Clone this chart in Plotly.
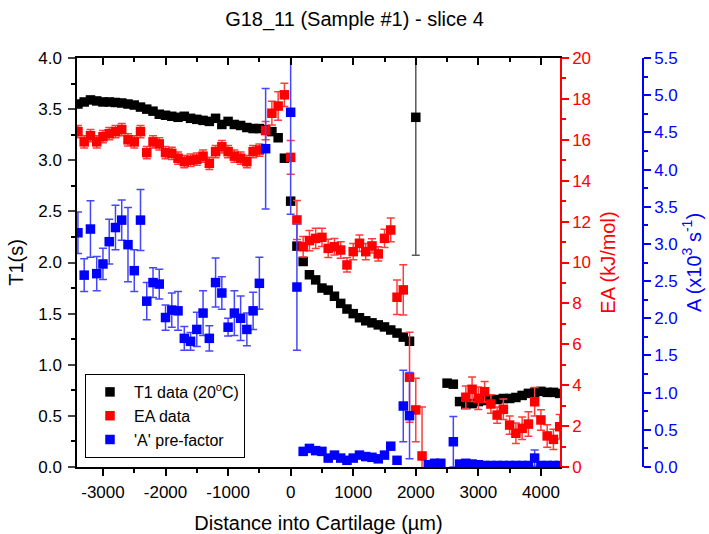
import numpy as np
import plotly.graph_objects as go

# ---------------- data ----------------
t1_x = list(range(-3400, 100, 100)) + list(range(100, 2100, 100)) + list(range(2500, 4400, 100))
t1_y = [3.55, 3.57, 3.59, 3.58, 3.57, 3.57, 3.565, 3.56, 3.55, 3.54, 3.52, 3.50, 3.48, 3.45,
        3.44, 3.43, 3.42, 3.43, 3.41, 3.40, 3.39, 3.38, 3.41, 3.35, 3.38, 3.35, 3.34, 3.32,
        3.31, 3.31, 3.30, 3.28, 3.22, 3.02, 2.60,
        2.16, 2.01, 1.88, 1.83, 1.75, 1.73, 1.67, 1.60, 1.545, 1.50, 1.46, 1.43, 1.41, 1.39,
        1.37, 1.34, 1.31, 1.27, 1.23, 3.42,
        0.82, 0.81, 0.64, 0.61, 0.62, 0.64, 0.65, 0.66, 0.66, 0.67, 0.67, 0.68, 0.70, 0.72,
        0.73, 0.74, 0.73, 0.73, 0.72]
t1_err = [0.0] * 35 + [0.0] * 19 + [1.35] + [0.0] * 19

ea_x = list(range(-3400, 200, 100)) + list(range(200, 2200, 100)) + list(range(2800, 4400, 100))
ea_y = [16.4, 15.9, 16.2, 15.9, 16.15, 16.3, 16.4, 16.5, 16.0, 15.9, 16.4, 15.37, 15.9, 15.8,
        15.37, 15.34, 15.1, 14.93, 15.0, 15.05, 15.2, 14.85, 15.42, 15.66, 15.42, 15.2, 15.1,
        14.93, 15.42, 15.5, 16.45, 17.3, 17.65, 18.2, 15.14, 12.08,
        10.77, 11.07, 11.18, 11.23, 10.69, 10.77, 10.61, 9.88, 10.53, 10.94, 10.53, 10.81,
        10.42, 11.18, 11.59, 8.3, 8.66, 4.39, 2.79, 0.54,
        3.41, 3.8, 3.36, 3.68, 3.08, 2.54, 2.82, 2.05, 1.65, 1.89, 2.1, 3.19, 2.3, 1.52, 1.35, 1.97]
ea_err = [0.3] * 30 + [0.45, 0.58, 0.7, 0.57, 0.82, 0.95] + \
         [0.5, 0.5, 0.5, 0.45, 0.45, 0.4, 0.4, 0.35, 0.4, 0.4, 0.4, 0.35, 0.35, 0.45, 0.58,
          0.84, 1.23, 2.2, 1.55, 2.4] + \
         [0.55, 0.6, 0.55, 0.5, 0.45, 0.4, 0.5, 0.45, 0.5, 0.55, 0.6, 0.7, 0.5, 0.55, 0.5, 0.6]

a_x = list(range(-3400, -400, 100)) + [-400, 0, 100] + list(range(200, 2000, 100)) + \
      [2200, 2300, 2400, 2600] + list(range(2700, 4400, 100))
a_y = [3.15, 2.58, 3.20, 2.60, 2.73, 3.03, 3.22, 3.32, 2.99, 2.64, 3.32, 2.23, 2.48, 2.46,
       2.01, 2.11, 2.10, 1.73, 1.69, 1.85, 2.07, 1.73, 2.48, 2.34, 1.88, 2.07, 2.00, 1.85,
       2.10, 2.47,
       4.28, 4.77, 2.42,
       0.21, 0.25, 0.22, 0.21, 0.12, 0.16, 0.12, 0.09, 0.12, 0.16, 0.14, 0.13, 0.11, 0.16,
       0.28, 0.09, 0.82, 0.69,
       0.03, 0.05, 0.05, 0.34,
       0.04, 0.05, 0.04, 0.03, 0.02, 0.02, 0.02, 0.02, 0.02, 0.02, 0.02, 0.02, 0.12,
       0.02, 0.02, 0.02, 0.02]
a_err = [0.28, 0.22, 0.38, 0.23, 0.21, 0.30, 0.30, 0.27, 0.50, 0.28, 0.41, 0.25, 0.20, 0.20,
         0.17, 0.23, 0.26, 0.16, 0.12, 0.23, 0.30, 0.17, 0.33, 0.22, 0.12, 0.30, 0.30, 0.22,
         0.25, 0.35,
         0.81, 1.37, 0.85] + [0.03] * 16 + [0.48, 0.58] + [0.0, 0.0, 0.0, 0.34] + \
        [0.0] * 12 + [0.11] + [0.0] * 4

x_tickvals = [-3000, -2000, -1000, 0, 1000, 2000, 3000, 4000]
x_ticktext = ["-3000", "-2000", "-1000", "0", "1000", "2000", "3000", "4000"]
x_minor = [-2500, -1500, -500, 500, 1500, 2500, 3500]

title_text = "G18_11 (Sample #1) - slice 4"
x_title = "Distance into Cartilage (\u00b5m)"

# ---------------- figure ----------------
FONT = "Arial, Liberation Sans, sans-serif"
RED = "#FF0000"
BLUE = "#0000FF"
W, H = 709, 534
ml, mr, mt, mb = 77, 20, 58, 67
pw = W - ml - mr
ph = H - mt - mb
xdom_end = (560 - ml) / pw
a_pos = (643 - ml) / pw
xr = [-3415, 4305]
TF = 17

fig = go.Figure()
fig.add_trace(go.Scatter(
    x=t1_x, y=t1_y, mode="markers", name="T1 data (20<sup>o</sup>C)",
    marker=dict(symbol="square", size=9.5, color="black"),
    error_y=dict(type="data", array=t1_err, color="rgb(90,90,90)", thickness=1.5, width=4),
    xaxis="x", yaxis="y"))
fig.add_trace(go.Scatter(
    x=ea_x, y=ea_y, mode="markers", name="EA data",
    marker=dict(symbol="square", size=9.5, color=RED),
    error_y=dict(type="data", array=ea_err, color="rgb(255,60,60)", thickness=1.5, width=4),
    xaxis="x", yaxis="y2"))
fig.add_trace(go.Scatter(
    x=a_x, y=a_y, mode="markers", name="'A' pre-factor",
    marker=dict(symbol="square", size=9.5, color=BLUE),
    error_y=dict(type="data", array=a_err, color="rgb(70,70,255)", thickness=1.5, width=4),
    xaxis="x", yaxis="y3"))
# dummy trace to register the top axis
fig.add_trace(go.Scatter(x=[None], y=[None], xaxis="x2", yaxis="y", showlegend=False,
                         hoverinfo="skip"))

fig.update_layout(
    width=W, height=H,
    margin=dict(l=ml, r=mr, t=mt, b=mb),
    paper_bgcolor="white", plot_bgcolor="white",
    font=dict(family=FONT, size=16, color="black"),
    title=dict(text=title_text, x=0.5, xanchor="center", y=1 - 19 / H, yanchor="middle",
               font=dict(size=20, color="black")),
    showlegend=True,
    legend=dict(x=(85 - ml) / pw, y=(467 - 458) / ph, xanchor="left", yanchor="bottom",
                bgcolor="white", bordercolor="black", borderwidth=1,
                font=dict(size=16), tracegroupgap=0, itemwidth=38),
    xaxis=dict(domain=[0, xdom_end], range=xr, showgrid=False, zeroline=False, automargin=False,
               showline=True, linecolor="black", linewidth=1.5,
               ticks="outside", ticklen=7, tickwidth=1.5, tickcolor="black",
               tickmode="array", tickvals=x_tickvals, ticktext=x_ticktext,
               tickfont=dict(size=TF), ticklabelstandoff=2,
               minor=dict(tickmode="array", tickvals=x_minor, ticks="outside", ticklen=4,
                          tickwidth=1.5, tickcolor="black"),
               title=dict(text=x_title, font=dict(size=20), standoff=20)),
    xaxis2=dict(overlaying="x", side="top", anchor="y", matches="x", range=xr, automargin=False,
                showgrid=False, zeroline=False, showline=True, linecolor="black", linewidth=1.5,
                ticks="inside", ticklen=7, tickwidth=1.5, tickcolor="black",
                tickmode="array", tickvals=x_tickvals, showticklabels=False,
                minor=dict(tickmode="array", tickvals=x_minor, ticks="inside", ticklen=4,
                           tickwidth=1.5, tickcolor="black")),
    yaxis=dict(range=[0, 4], showgrid=False, zeroline=False, showline=True, automargin=False,
               linecolor="black", linewidth=1.5, ticks="outside", ticklen=7, tickwidth=1.5,
               dtick=0.5, tick0=0, tickformat=".1f", tickfont=dict(size=TF), ticklabelstandoff=3,
               minor=dict(dtick=0.25, ticks="outside", ticklen=4, tickwidth=1.5, tickcolor="black"),
               title=dict(text="T1(s)", font=dict(size=20), standoff=9)),
    yaxis2=dict(range=[0, 20], overlaying="y", side="right", anchor="x", showgrid=False,
                zeroline=False, showline=True, linecolor=RED, linewidth=1.5, automargin=False,
                ticks="outside", ticklen=7, tickwidth=1.5, tickcolor=RED,
                dtick=2, tick0=0, tickfont=dict(size=TF, color=RED),
                minor=dict(dtick=1, ticks="outside", ticklen=4, tickwidth=1.5, tickcolor=RED),
                title=dict(text="EA (kJ/mol)", font=dict(size=20, color=RED), standoff=11)),
    yaxis3=dict(range=[0, 5.5], overlaying="y", side="right", anchor="free", position=a_pos,
                showgrid=False, zeroline=False, showline=True, linecolor=BLUE, linewidth=1.5,
                automargin=False,
                ticks="outside", ticklen=7, tickwidth=1.5, tickcolor=BLUE,
                dtick=0.5, tick0=0, tickformat=".1f", tickfont=dict(size=TF, color=BLUE),
                minor=dict(dtick=0.25, ticks="outside", ticklen=4, tickwidth=1.5, tickcolor=BLUE),
                title=dict(text="A (x10<sup>3</sup> s<sup>-1</sup>)", font=dict(size=20, color=BLUE),
                           standoff=9)),
)

fig.write_html("out.html")
